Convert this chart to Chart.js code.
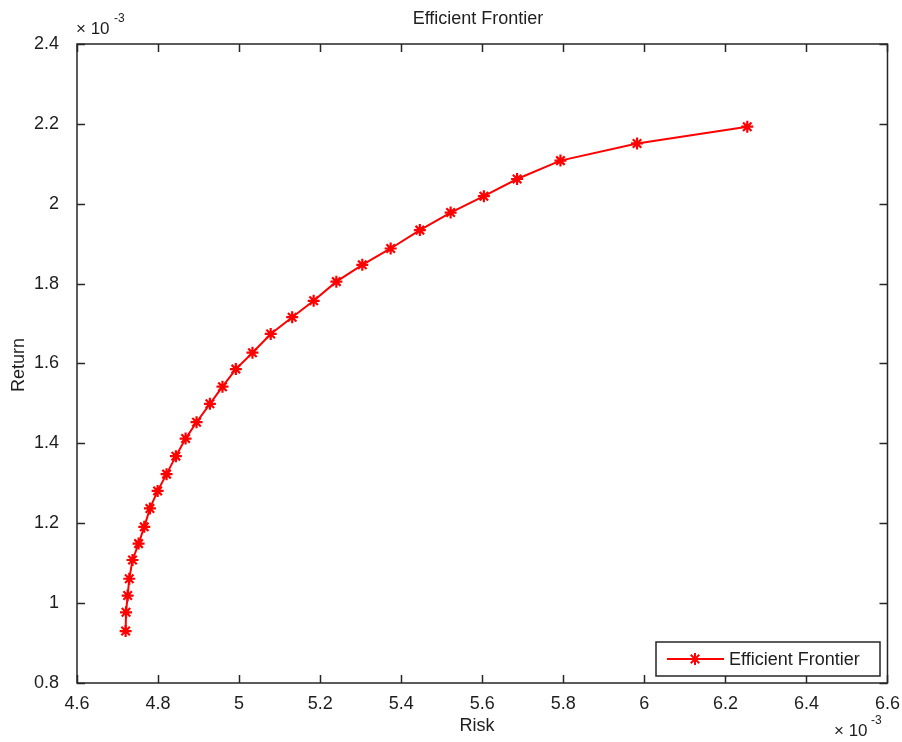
<!DOCTYPE html>
<html>
<head>
<meta charset="utf-8">
<title>Efficient Frontier</title>
<script src="https://cdn.jsdelivr.net/npm/chart.js@4/dist/chart.umd.min.js"></script>
<style>
  html, body { margin: 0; padding: 0; background: #ffffff; }
  #frontierChart { display: block; }
</style>
</head>
<body>
<canvas id="frontierChart" width="902" height="742"></canvas>
<script>
// Risk and return of each portfolio on the frontier (units of 10^-3)
const riskValues = [4.720, 4.721, 4.725, 4.729, 4.737, 4.752, 4.766, 4.780, 4.799, 4.821,
                    4.844, 4.868, 4.895, 4.928, 4.959, 4.992, 5.033, 5.078, 5.131, 5.184,
                    5.240, 5.304, 5.374, 5.446, 5.522, 5.604, 5.686, 5.793, 5.982, 6.254];
const returnValues = [0.930, 0.977, 1.019, 1.061, 1.108, 1.149, 1.191, 1.237, 1.281, 1.323,
                      1.368, 1.412, 1.453, 1.499, 1.542, 1.586, 1.627, 1.674, 1.716, 1.757,
                      1.805, 1.847, 1.888, 1.934, 1.978, 2.019, 2.062, 2.108, 2.151, 2.193];

// Tick values and labels
const xTickValues = [4.6, 4.8, 5, 5.2, 5.4, 5.6, 5.8, 6, 6.2, 6.4, 6.6];
const xTickLabels = ['4.6', '4.8', '5', '5.2', '5.4', '5.6', '5.8', '6', '6.2', '6.4', '6.6'];
const yTickValues = [0.8, 1, 1.2, 1.4, 1.6, 1.8, 2, 2.2, 2.4];
const yTickLabels = ['0.8', '1', '1.2', '1.4', '1.6', '1.8', '2', '2.2', '2.4'];

const FONT = '"Liberation Sans", Arial, Helvetica, sans-serif';
const TEXT_COLOR = '#1e1e1e';
const AXIS_COLOR = '#262626';
const LINE_COLOR = '#ff0000';

document.addEventListener('DOMContentLoaded', function() {

    const points = riskValues.map((r, i) => ({ x: r, y: returnValues[i] }));

    // --- draws the box, inward ticks, texts and the legend (MATLAB look) ---
    const matlabAxes = {
        id: 'matlabAxes',
        afterDraw(chart) {
            const ctx = chart.ctx;
            const area = chart.chartArea;
            const xs = chart.scales.x;
            const ys = chart.scales.y;
            const tickLen = 8;

            ctx.save();
            ctx.strokeStyle = AXIS_COLOR;
            ctx.lineWidth = 1.5;
            ctx.strokeRect(area.left, area.top, area.right - area.left, area.bottom - area.top);

            // tick marks on all four sides, pointing in
            ctx.beginPath();
            xTickValues.forEach(v => {
                const px = Math.round(xs.getPixelForValue(v)) + 0.5;
                ctx.moveTo(px, area.bottom); ctx.lineTo(px, area.bottom - tickLen);
                ctx.moveTo(px, area.top); ctx.lineTo(px, area.top + tickLen);
            });
            yTickValues.forEach(v => {
                const py = Math.round(ys.getPixelForValue(v)) + 0.5;
                ctx.moveTo(area.left, py); ctx.lineTo(area.left + tickLen, py);
                ctx.moveTo(area.right, py); ctx.lineTo(area.right - tickLen, py);
            });
            ctx.stroke();

            // titles
            ctx.fillStyle = TEXT_COLOR;
            ctx.font = '18px ' + FONT;
            ctx.textAlign = 'center';
            ctx.textBaseline = 'middle';
            ctx.fillText('Efficient Frontier', 478, 19);
            ctx.fillText('Risk', 477, 726);
            ctx.save();
            ctx.translate(19, 365);
            ctx.rotate(-Math.PI / 2);
            ctx.fillText('Return', 0, 0);
            ctx.restore();

            // exponent labels
            ctx.textAlign = 'left';
            ctx.textBaseline = 'alphabetic';
            ctx.font = '17px ' + FONT;
            ctx.fillText('\u00d7 10', 76, 34);
            ctx.fillText('\u00d7 10', 834, 736);
            ctx.font = '12px ' + FONT;
            ctx.fillText('-3', 114, 22);
            ctx.fillText('-3', 871, 724);

            // legend
            const lx = 656, ly = 642, lw = 224, lh = 34;
            ctx.fillStyle = '#ffffff';
            ctx.fillRect(lx, ly, lw, lh);
            ctx.lineWidth = 1.5;
            ctx.strokeStyle = AXIS_COLOR;
            ctx.strokeRect(lx, ly, lw, lh);
            const my = ly + lh / 2;
            ctx.strokeStyle = LINE_COLOR;
            ctx.lineWidth = 2;
            ctx.beginPath();
            ctx.moveTo(667, my); ctx.lineTo(724, my);
            ctx.stroke();
            Chart.helpers.drawPoint(ctx, { pointStyle: 'star', radius: 6, borderWidth: 2, rotation: 0 }, 695, my);
            ctx.fillStyle = TEXT_COLOR;
            ctx.font = '18px ' + FONT;
            ctx.textBaseline = 'middle';
            ctx.fillText(chart.data.datasets[0].label, 729, my + 1);
            ctx.restore();
        }
    };

    const config = {
        type: 'scatter',
        data: {
            datasets: [{
                label: 'Efficient Frontier',
                data: points,
                showLine: true,
                borderColor: LINE_COLOR,
                backgroundColor: LINE_COLOR,
                borderWidth: 2,
                pointStyle: 'star',
                pointRadius: 6,
                pointHoverRadius: 6,
                pointBorderColor: LINE_COLOR,
                pointBorderWidth: 2.2,
                tension: 0
            }]
        },
        options: {
            responsive: false,
            animation: false,
            devicePixelRatio: 1,
            layout: { padding: { top: 44, right: 14, left: 0, bottom: 0 } },
            plugins: {
                legend: { display: false },
                title: { display: false },
                tooltip: { enabled: false }
            },
            scales: {
                x: {
                    type: 'linear',
                    min: 4.6,
                    max: 6.6,
                    grid: { display: false },
                    border: { display: false },
                    afterBuildTicks: s => { s.ticks = xTickValues.map(v => ({ value: v })); },
                    afterFit: s => { s.height = 59; },
                    ticks: {
                        color: TEXT_COLOR,
                        font: { family: FONT, size: 18 },
                        padding: 2,
                        maxRotation: 0,
                        autoSkip: false,
                        callback: v => xTickLabels[xTickValues.indexOf(v)] ?? ''
                    }
                },
                y: {
                    type: 'linear',
                    min: 0.8,
                    max: 2.4,
                    grid: { display: false },
                    border: { display: false },
                    afterBuildTicks: s => { s.ticks = yTickValues.map(v => ({ value: v })); },
                    afterFit: s => { s.width = 77; },
                    ticks: {
                        color: TEXT_COLOR,
                        font: { family: FONT, size: 18 },
                        padding: 10,
                        autoSkip: false,
                        callback: v => yTickLabels[yTickValues.indexOf(v)] ?? ''
                    }
                }
            }
        },
        plugins: [matlabAxes]
    };

    new Chart(document.getElementById('frontierChart').getContext('2d'), config);
});
</script>
</body>
</html>
